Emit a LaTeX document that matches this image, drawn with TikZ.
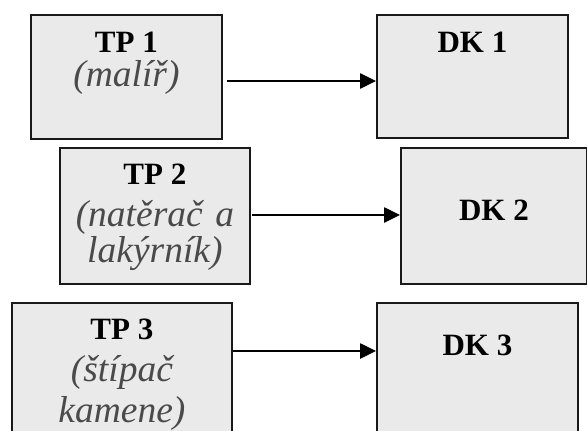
\documentclass[tikz,border=0pt]{standalone}
\usepackage{fontspec}
\setmainfont{Liberation Serif}
\usetikzlibrary{arrows.meta}
\definecolor{boxgray}{HTML}{EAEAEA}
\definecolor{rolegray}{HTML}{4A4A4A}

\begin{document}
\begin{tikzpicture}[x=1pt, y=-1pt, >={Triangle[length=16pt,width=15pt]},
  box/.style={draw=black!90, line width=1.8pt, fill=boxgray, inner sep=0pt, anchor=north west},
  head/.style={inner sep=0pt, anchor=base, font=\fontsize{31}{37}\selectfont\bfseries},
  role/.style={inner sep=0pt, anchor=base, align=center, text width=210pt, text=rolegray,
    font=\fontsize{37.5}{36}\selectfont\itshape},
  link/.style={->, line width=2.6pt}]
  \useasboundingbox (0,0) rectangle (587,431);
  \clip (0,0) rectangle (587,431);
  % left column
  \node[box, minimum width=191pt, minimum height=124pt] (tp1) at (30,14) {};
  \node[box, minimum width=190pt, minimum height=136pt] (tp2) at (59,147) {};
  \node[box, minimum width=220pt, minimum height=150pt] (tp3) at (11,302) {};
  % right column
  \node[box, minimum width=191pt, minimum height=123pt] (dk1) at (376,14) {};
  \node[box, minimum width=186pt, minimum height=136pt] (dk2) at (400,147) {};
  \node[box, minimum width=201pt, minimum height=150pt] (dk3) at (376,302) {};
  % texts
  \node[head] (tp1h) at ([yshift=-38pt]tp1.north) {TP 1};
  \node[role] (tp1r) at ([yshift=-72pt]tp1.north) {(malíř)};
  \node[head] (tp2h) at ([yshift=-37pt]tp2.north) {TP 2};
  \node[role] (tp2r) at ([yshift=-79pt]tp2.north) {(natěrač a\\ lakýrník)};
  \node[head] (tp3h) at ([yshift=-37pt]tp3.north) {TP 3};
  \node[role, font=\fontsize{37.5}{41}\selectfont\itshape] (tp3r) at ([yshift=-79pt]tp3.north) {(štípač\\ kamene)};
  \node[head] (dk1h) at ([yshift=-38pt]dk1.north) {DK 1};
  \node[head] (dk2h) at ([yshift=-73pt]dk2.north) {DK 2};
  \node[head] (dk3h) at ([yshift=-53pt]dk3.north) {DK 3};
  % arrows
  \draw[link] ([xshift=4pt, yshift=-67pt]tp1.north east) -- ([yshift=-67pt]dk1.north west);
  \draw[link] ([xshift=1pt, yshift=-68pt]tp2.north east) -- ([yshift=-68pt]dk2.north west);
  \draw[link] ([yshift=-49pt]tp3.north east) -- ([yshift=-49pt]dk3.north west);
\end{tikzpicture}
\end{document}
